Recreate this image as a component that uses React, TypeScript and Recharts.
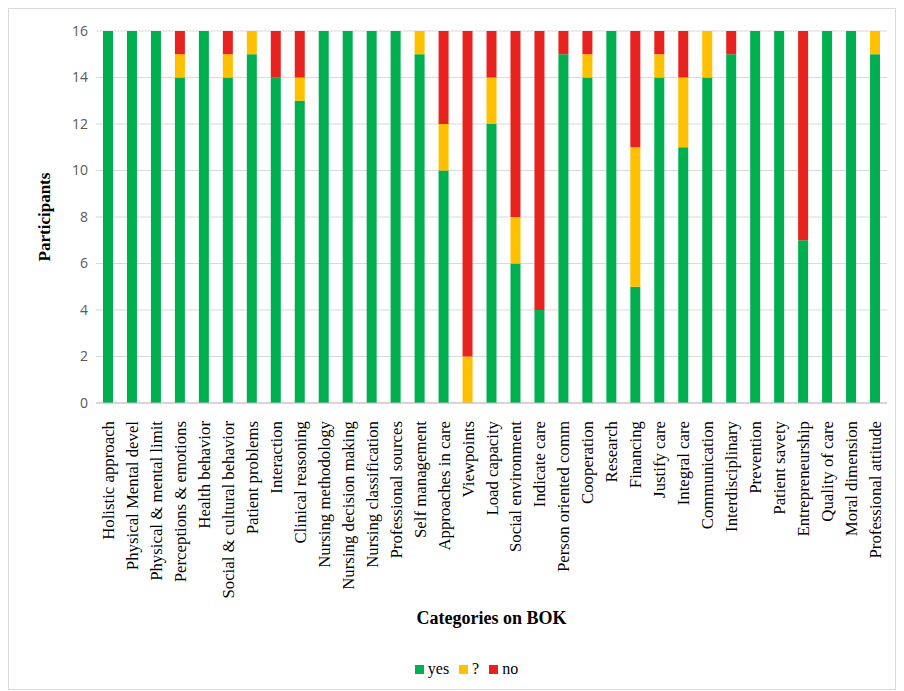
import { BarChart, Bar, XAxis, YAxis, CartesianGrid, Legend, Label } from "recharts";

const categories = [
  "Holistic approach", "Physical Mental devel", "Physical & mental limit", "Perceptions & emotions",
  "Health behavior", "Social & cultural behavior", "Patient problems", "Interaction",
  "Clinical reasoning", "Nursing methodology", "Nursing decision making", "Nursing classification",
  "Professional sources", "Self management", "Approaches in care", "Viewpoints",
  "Load capacity", "Social environment", "Indicate care", "Person oriented comm",
  "Cooperation", "Research", "Financing", "Justify care",
  "Integral care", "Communication", "Interdisciplinary", "Prevention",
  "Patient savety", "Entrepreneurship", "Quality of care", "Moral dimension",
  "Professional attitude",
];
const yesValues = [16, 16, 16, 14, 16, 14, 15, 14, 13, 16, 16, 16, 16, 15, 10, 0, 12, 6, 4, 15, 14, 16, 5, 14, 11, 14, 15, 16, 16, 7, 16, 16, 15];
const unsureValues = [0, 0, 0, 1, 0, 1, 1, 0, 1, 0, 0, 0, 0, 1, 2, 2, 2, 2, 0, 0, 1, 0, 6, 1, 3, 2, 0, 0, 0, 0, 0, 0, 1];
const noValues = [0, 0, 0, 1, 0, 1, 0, 2, 2, 0, 0, 0, 0, 0, 4, 14, 2, 8, 12, 1, 1, 0, 5, 1, 2, 0, 1, 0, 0, 9, 0, 0, 0];
const yTicks = [0, 2, 4, 6, 8, 10, 12, 14, 16];

const series = [
  { key: "yes", name: "yes", color: "#00B050" },
  { key: "unsure", name: "?", color: "#FFC000" },
  { key: "no", name: "no", color: "#E8231F" },
];

const data = categories.map((name, i) => ({
  name,
  yes: yesValues[i],
  unsure: unsureValues[i],
  no: noValues[i],
}));

const serif = "'Liberation Serif', 'Times New Roman', serif";

function CategoryTick(props: any) {
  const { x, y, payload } = props;
  return (
    <text
      x={x + 6}
      y={y + 10}
      transform={`rotate(-90, ${x + 6}, ${y + 10})`}
      textAnchor="end"
      fontFamily={serif}
      fontSize={16.8}
      fill="#000"
    >
      {payload.value}
    </text>
  );
}

function LegendContent() {
  return (
    <div style={{ display: "flex", justifyContent: "center", fontFamily: serif, fontSize: 16, color: "#000", paddingLeft: 20 }}>
      {series.map((s) => (
        <span key={s.key} style={{ display: "inline-flex", alignItems: "center", marginRight: 10 }}>
          <span style={{ display: "inline-block", width: 9, height: 9, background: s.color, marginRight: 4 }} />
          {s.name}
        </span>
      ))}
    </div>
  );
}

export default function App() {
  return (
    <div style={{ width: 886, height: 680, border: "1px solid #d9d9d9", background: "#fff" }}>
      <BarChart
        width={886}
        height={680}
        data={data}
        margin={{ top: 22, right: 8, left: 27, bottom: 5 }}
        barSize={10}
      >
        <CartesianGrid vertical={false} stroke="#d9d9d9" />
        <XAxis
          dataKey="name"
          interval={0}
          height={257}
          tick={<CategoryTick />}
          tickLine={false}
          axisLine={{ stroke: "#bfbfbf" }}
        >
          <Label
            value="Categories on BOK"
            position="insideBottom"
            offset={36}
            style={{ fontFamily: serif, fontWeight: "bold", fontSize: 18, fill: "#000" }}
          />
        </XAxis>
        <YAxis
          domain={[0, 16]}
          ticks={yTicks}
          width={60}
          tickLine={false}
          axisLine={false}
          tick={{ fontFamily: "'Open Sans', sans-serif", fontSize: 14, fill: "#595959" }}
        >
          <Label
            value="Participants"
            angle={-90}
            position="insideLeft"
            offset={8}
            style={{ fontFamily: serif, fontWeight: "bold", fontSize: 17, fill: "#000", textAnchor: "middle" }}
          />
        </YAxis>
        <Legend verticalAlign="bottom" height={24} content={<LegendContent />} />
        {series.map((s) => (
          <Bar key={s.key} dataKey={s.key} name={s.name} stackId="a" fill={s.color} isAnimationActive={false} />
        ))}
      </BarChart>
    </div>
  );
}
